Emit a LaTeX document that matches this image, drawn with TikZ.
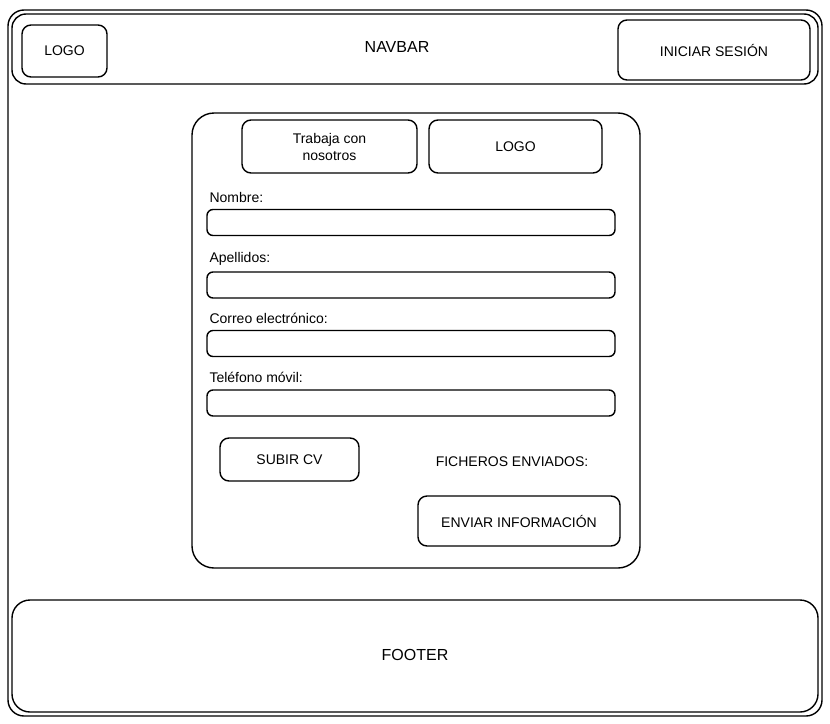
\documentclass[tikz,border=0pt]{standalone}
\usepackage{fontspec}
\setmainfont{Liberation Sans}
\usetikzlibrary{positioning}

\tikzset{
  box/.style={draw, line width=1.4pt, rounded corners=9pt, fill=white, align=center,
    font=\fontsize{14}{17}\selectfont},
  field/.style={draw, line width=1.4pt, rounded corners=6pt, minimum width=408pt, minimum height=26pt},
  lbl/.style={inner sep=0pt, font=\fontsize{14}{16}\selectfont}
}

\begin{document}
\begin{tikzpicture}[x=1pt,y=-1pt]
   \useasboundingbox (0,0) rectangle (830,723);
   % page frame, navbar and footer
   \node[box, rounded corners=16pt, minimum width=814pt, minimum height=706pt] (frame) at (415,363) {};
   \node[box, rounded corners=14pt, minimum width=806pt, minimum height=70pt] (navbar) at (415,49) {};
   \node[font=\fontsize{16}{19}\selectfont] (navtext) at (397,47) {NAVBAR};
   \node[box, minimum width=85pt, minimum height=52pt] (logo) at (64.5,51) {LOGO};
   \node[box, minimum width=192pt, minimum height=60pt] (login) at (714,50) {INICIAR SESIÓN};
   \node[box, rounded corners=18pt, minimum width=806pt, minimum height=112pt] (footer) at (415,656) {};
   \node[font=\fontsize{16}{19}\selectfont] (foottext) at (415,655) {FOOTER};
   % form
   \node[box, rounded corners=22pt, minimum width=448pt, minimum height=455pt] (form) at (416,340.5) {};
   \node[box, minimum width=175pt, minimum height=53pt] (trabaja) at (329.5,146.5) {Trabaja con\\nosotros};
   \node[box, minimum width=173pt, minimum height=53pt] (logo_2) at (515.5,146.5) {LOGO};
   \node[field] (f_nombre) at (411,222.5) {};
   \node[field] (f_apellidos) at (411,285) {};
   \node[field] (f_correo) at (411,343.5) {};
   \node[field] (f_telefono) at (411,403) {};
   \node[lbl] (l_nombre) [above right=6pt and 3pt of f_nombre.north west] {Nombre:};
   \node[lbl] (l_apellidos) [above right=6pt and 3pt of f_apellidos.north west] {Apellidos:};
   \node[lbl] (l_correo) [above right=6pt and 3pt of f_correo.north west] {Correo electrónico:};
   \node[lbl] (l_telefono) [above right=6pt and 3pt of f_telefono.north west] {Teléfono móvil:};
   \node[box, minimum width=139pt, minimum height=43pt] (subir) at (289.5,459.5) {SUBIR CV};
   \node[font=\fontsize{14}{17}\selectfont] (ficheros) at (512,462) {FICHEROS ENVIADOS:};
   \node[box, minimum width=202pt, minimum height=50pt] (enviar) at (519,521) {ENVIAR INFORMACIÓN};
\end{tikzpicture}
\end{document}
